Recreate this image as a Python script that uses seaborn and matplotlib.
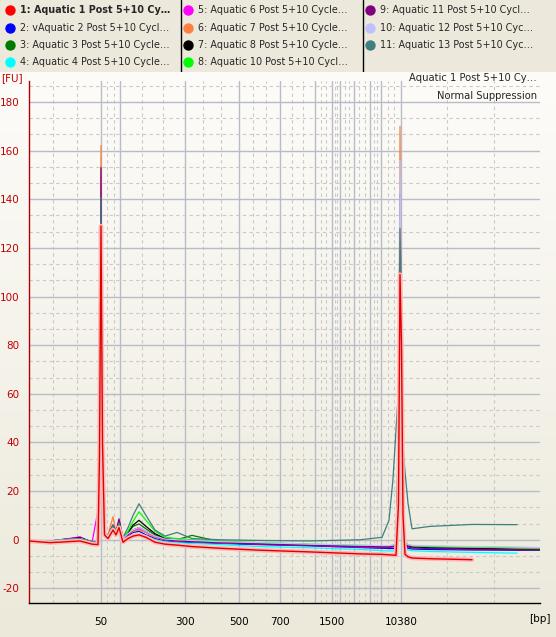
import numpy as np
import pandas as pd
import matplotlib
matplotlib.use("Agg")
import matplotlib.pyplot as plt
import seaborn as sns

# Data: migration time (s) and fluorescence (FU) for each sample
time_s = [20.0, 24.2, 30.2, 32.6, 33.8, 34.1, 34.4, 34.7, 35.1, 35.8,
          36.8, 37.4, 38.0, 38.8, 39.8, 40.8, 42.0, 43.4, 45.2, 47.2,
          49.6, 52.6, 58.2, 66.2, 76.2, 86.2, 90.6, 92.0, 92.8, 93.4,
          93.9, 94.2, 94.5, 94.8, 95.2, 95.8, 96.6, 100.2, 108.6, 117.6, 122.2]

fu_s1 = [-0.5, -1.2, -0.5, -1.8, -2.0, 35, 129, 40, 2, 0.5,
         4, 2, 5, -1, 0.5, 1.5, 2, 1, -1, -1.8,
         -2.2, -2.8, -3.5, -4.3, -5, -5.8, -6, -6.2, -6.3, -6.4,
         15, 109, 80, 10, -6, -7, -7.5, -7.8, -8.2, np.nan, np.nan]
fu_s2 = [-0.5, -0.5, 1.0, -1.0, -1.2, 20, 120, 25, 1.5, 1,
         5, 2.5, 6, 0, 1.5, 3, 3.5, 2, 0.5, -0.5,
         -1, -1.2, -1.5, -2, -2.5, -3.2, -3.5, -3.6, -3.6, -3.5,
         10, 116, 60, 5, -2.5, -3.5, -3.8, -4, -4.2, -4.3, -4.2]
fu_s3 = [-0.3, -0.5, 0.5, -0.8, -1, 15, 112, 30, 2, 1.5,
         6, 3, 6.5, 0.5, 3, 5.5, 6.5, 4.5, 2, 0.5,
         0, 1.8, -0.8, -1.5, -2, -2.5, -2.8, -2.8, -2.5, -2,
         20, 137, 70, 8, -1, -2.5, -3, -3.3, -3.5, -3.8, -3.8]
fu_s4 = [-0.5, -0.8, 0, -1.5, -1.5, 15, 106, 25, 1, 0.5,
         4, 1.5, 4.5, -0.5, 1, 2, 2.5, 1.5, 0, -0.8,
         -1.2, -1.5, -2, -2.8, -3.3, -4, -4.5, -4.6, -4.6, -4.5,
         10, 100, 55, 5, -3.5, -4.2, -4.5, -4.8, -5.2, -5.5, np.nan]
fu_s5 = [-0.5, -0.8, 1.2, -1.2, 12, 60, 134, 30, 2, 1,
         5, 2, 6.5, 0, 2, 3.5, 4.5, 3, 1, 0,
         -0.5, -0.8, -1.2, -1.8, -2.3, -3, -3.2, -3.2, -3, -2.5,
         18, 118, 60, 6, -2, -3, -3.3, -3.5, -3.8, -4, -4]
fu_s6 = [-0.5, -0.5, 0.5, -1, -1, 25, 162, 35, 3, 2,
         9.5, 3, 7, 0.5, 2, 3.5, 4, 3, 1, 0,
         -0.3, -0.8, -1.2, -1.6, -2, -2.5, -2.7, -2.7, -2.5, -2,
         25, 170, 80, 8, -1, -2, -2.5, -2.8, -3, -3.2, -3.3]
fu_s7 = [-0.3, -0.5, 0.8, -0.8, -1, 15, 101, 28, 2, 1.5,
         6, 3, 8, 0.5, 3, 6, 8, 5.5, 2.5, 0.5,
         0, -0.5, -1, -1.5, -2, -2.6, -2.8, -2.8, -2.5, -2,
         45, 135, 80, 10, -1, -2.5, -3, -3.3, -3.6, -4, -4.1]
fu_s8 = [-0.3, -0.5, 0.5, -0.8, -1, 15, 96, 25, 2, 1.5,
         5.5, 3, 7, 0.5, 3.5, 7.5, 11.5, 8, 3.5, 1,
         0.5, 0, -0.5, -1.2, -1.8, -2.3, -2.5, -2.5, -2.2, -1.8,
         25, 131, 70, 8, -0.5, -2, -2.5, -2.8, -3, -3.3, -3.5]
fu_s9 = [-0.5, -0.5, 0.5, -1, -1.2, 25, 153, 35, 2, 1.5,
         6, 3, 8.6, 0.5, 2, 4, 5, 3.5, 1.5, 0,
         -0.5, -0.8, -1.2, -1.8, -2.3, -2.8, -3, -3, -2.8, -2.3,
         25, 142, 75, 8, -1.5, -2.8, -3.3, -3.6, -3.9, -4.1, -4.1]
fu_s10 = [-0.3, -0.3, 0.5, -0.8, -1, 12, 90, 22, 2, 1.5,
          5, 2.5, 6, 0.5, 2.5, 4, 5, 3.5, 1.5, 0.3,
          0, -0.3, -0.8, -1.2, -1.8, -2.2, -2.4, -2.4, -2.2, -1.8,
          25, 156, 80, 8, -1, -2, -2.3, -2.5, -2.8, -3, -3.2]
fu_s11 = [-0.3, -0.5, 0.5, -0.8, -1, 20, 141, 30, 2.5, 2,
          6, 3, 7, 1, 5, 10, 14.8, 10, 4, 1.5,
          3, 0.5, 0, -0.3, -0.5, 0, 1.0, 8, 25, 45,
          62, 128, 90, 38, 28, 15, 4.5, 5.5, 6.3, 6.2, np.nan]

series = [fu_s1, fu_s2, fu_s3, fu_s4, fu_s5, fu_s6, fu_s7, fu_s8, fu_s9, fu_s10, fu_s11]

sample_names = ["1: Aquatic 1 Post 5+10 Cy\u2026",
                "2: vAquatic 2 Post 5+10 Cycl\u2026",
                "3: Aquatic 3 Post 5+10 Cycle\u2026",
                "4: Aquatic 4 Post 5+10 Cycle\u2026",
                "5: Aquatic 6 Post 5+10 Cycle\u2026",
                "6: Aquatic 7 Post 5+10 Cycle\u2026",
                "7: Aquatic 8 Post 5+10 Cycle\u2026",
                "8: Aquatic 10 Post 5+10 Cycl\u2026",
                "9: Aquatic 11 Post 5+10 Cycl\u2026",
                "10: Aquatic 12 Post 5+10 Cyc\u2026",
                "11: Aquatic 13 Post 5+10 Cyc\u2026"]
sample_colors = ["#FF0000", "#0000FF", "#007A00", "#00FFFF", "#FF00FF", "#FF8040",
                 "#000000", "#00FF00", "#800080", "#C0C0FF", "#3F7F7F"]

x_tick_pos = [34.4, 38.2, 51.2, 62.0, 70.2, 77.2, 80.6, 82.2, 85.0, 88.2, 90.4, 94.4]
x_tick_labels = ["50", "", "300", "500", "700", "", "1500", "", "", "", "", "10380"]
y_ticks = [-20, 0, 20, 40, 60, 80, 100, 120, 140, 160, 180]

# Long-form table
frames = [pd.DataFrame({"time": time_s, "FU": vals, "sample": name})
          for name, vals in zip(sample_names, series)]
df = pd.concat(frames, ignore_index=True)
palette = dict(zip(sample_names, sample_colors))

sns.set_theme(style="white")
plt.rcParams['font.family'] = ['DejaVu Sans']
plt.rcParams['axes.unicode_minus'] = False

W, H = 556, 637
fig = plt.figure(figsize=(W / 100, H / 100), dpi=100)
fig.patch.set_facecolor("#ECE9DC")

# gradient background below the legend strip
top_strip = 72
bg = fig.add_axes([0, 0, 1, 1 - top_strip / H], zorder=-10)
c_top = np.array([253, 252, 249]) / 255
c_bot = np.array([236, 233, 219]) / 255
f = np.linspace(0, 1, 256)[:, None, None]
grad = c_top * (1 - f) + c_bot * f
bg.imshow(grad, aspect="auto", extent=[0, 1, 0, 1])
bg.axis("off")

# main plot
ax = fig.add_axes([29 / W, 1 - 603 / H, (540 - 29) / W, (603 - 81) / H])
ax.set_facecolor("none")

others = df[df["sample"] != sample_names[0]]
red = df[df["sample"] == sample_names[0]]
sns.lineplot(data=others, x="time", y="FU", hue="sample", hue_order=sample_names[1:],
             palette=palette, estimator=None, sort=False, legend=False, lw=0.9, ax=ax)
sns.lineplot(data=red, x="time", y="FU", color="#FFB8B8", estimator=None, sort=False,
             legend=False, lw=3.2, ax=ax)
sns.lineplot(data=red, x="time", y="FU", color="#E00000", estimator=None, sort=False,
             legend=False, lw=1.0, ax=ax)

x_lo, x_hi = 20.0, 122.2
ax.set_xlim(x_lo, x_hi)
ax.set_ylim(-26, 188.6)

bounds = [x_lo] + x_tick_pos + [x_hi]
x_minor = []
for a, b in zip(bounds[:-1], bounds[1:]):
    x_minor += [a + (b - a) / 3, a + 2 * (b - a) / 3]
y_minor = [k * 20 / 3 for k in range(-3, 29) if k % 3 != 0]

ax.set_xticks(x_tick_pos)
ax.set_xticklabels(x_tick_labels)
ax.set_xticks(x_minor, minor=True)
ax.set_yticks(y_ticks)
ax.set_yticks(y_minor, minor=True)
ax.set_xlabel("")
ax.set_ylabel("")

ax.set_axisbelow(True)
ax.grid(which="major", color="#B7BCC6", lw=1.0, ls="-")
ax.grid(which="minor", color="#C9C9C9", lw=0.8, ls=(0, (3, 3)))

ax.tick_params(which="minor", length=0)
ax.tick_params(axis="y", which="major", colors="#C00000", length=5, width=1,
               direction="out", labelsize=7.5, pad=2)
ax.tick_params(axis="x", which="major", colors="black", length=6, width=1,
               direction="out", labelsize=7.5, pad=4)
for s in ["top", "right"]:
    ax.spines[s].set_visible(False)
ax.spines["left"].set_color("#B00000")
ax.spines["left"].set_linewidth(1)
ax.spines["bottom"].set_color("black")
ax.spines["bottom"].set_linewidth(1)

fig.text(1 / W, 1 - 78 / H, "[FU]", color="#C00000", fontsize=7.5, ha="left", va="center")
fig.text(551 / W, 1 - 619 / H, "[bp]", color="black", fontsize=7.5, ha="right", va="center")
fig.text(537 / W, 1 - 78 / H, sample_names[0].split(": ", 1)[1], fontsize=7.2,
         ha="right", va="center")
fig.text(537 / W, 1 - 96 / H, "Normal Suppression", fontsize=7.2, ha="right", va="center")

# legend strip (pixel coordinates)
lg = fig.add_axes([0, 1 - top_strip / H, 1, top_strip / H])
lg.set_xlim(0, W)
lg.set_ylim(top_strip, 0)
lg.axis("off")
col_x = [10, 188, 370]
row_y = [10, 28, 45, 62]
for i, (name, col) in enumerate(zip(sample_names, sample_colors)):
    c, r = divmod(i, 4)
    lg.scatter([col_x[c]], [row_y[r]], s=42, color=col, edgecolors=col, zorder=3)
    lg.text(col_x[c] + 10, row_y[r], name, fontsize=6.9, va="center", ha="left",
            fontweight="bold" if i == 0 else "normal")
for sx in [181, 363]:
    lg.plot([sx, sx], [0, top_strip], color="black", lw=1)

fig.savefig("out.png", dpi=100)
